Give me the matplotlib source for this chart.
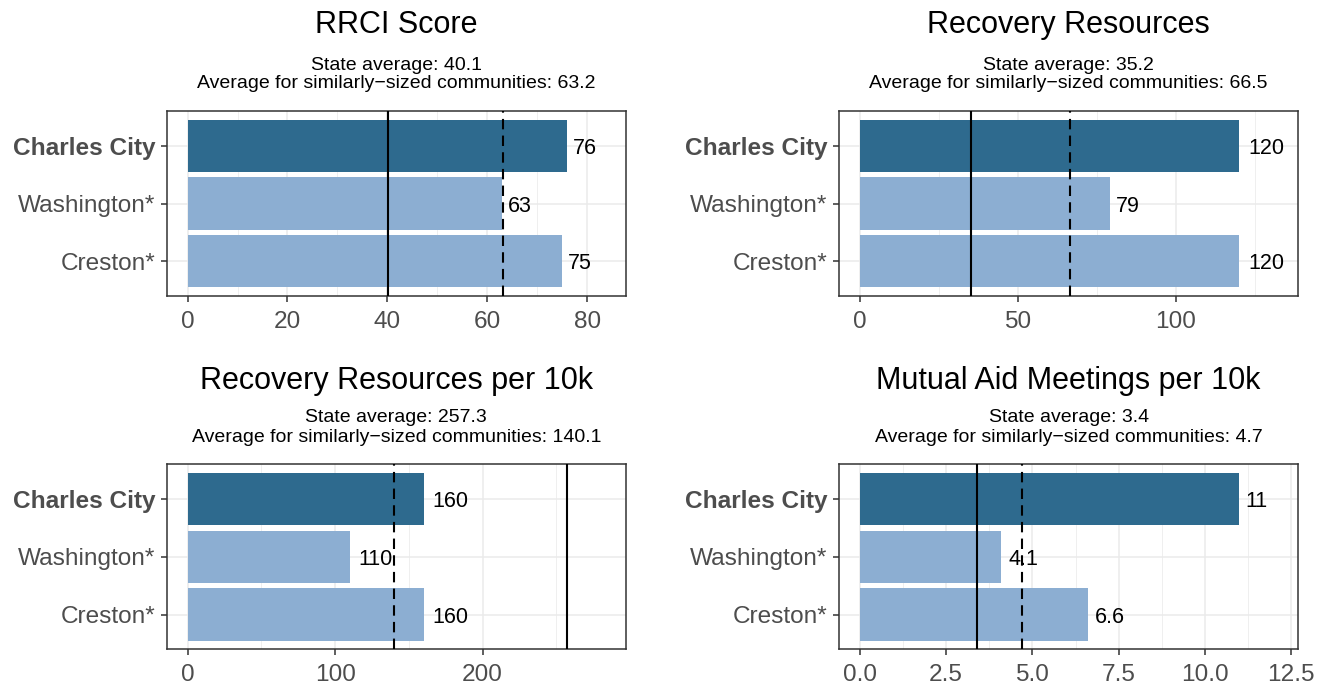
import matplotlib
matplotlib.use('Agg')
import matplotlib.pyplot as plt
from matplotlib.ticker import FixedLocator, MultipleLocator

plt.rcParams['font.family'] = ['Liberation Sans', 'DejaVu Sans']

# ---------------- data ----------------
communities = ['Charles City', 'Washington*', 'Creston*']
highlight = 'Charles City'

titles = ['RRCI Score', 'Recovery Resources',
          'Recovery Resources per 10k', 'Mutual Aid Meetings per 10k']
rrci_values = [76, 63, 75]
resources_values = [120, 79, 120]
resources_per10k_values = [160, 110, 160]
meetings_per10k_values = [11, 4.1, 6.6]
series = [rrci_values, resources_values, resources_per10k_values, meetings_per10k_values]

state_avgs = [40.1, 35.2, 257.3, 3.4]
similar_avgs = [63.2, 66.5, 140.1, 4.7]

value_labels = [['76', '63', '75'], ['120', '79', '120'],
                ['160', '110', '160'], ['11', '4.1', '6.6']]
xtick_values = [[0, 20, 40, 60, 80], [0, 50, 100], [0, 100, 200],
                [0, 2.5, 5, 7.5, 10, 12.5]]
xtick_labels = [['0', '20', '40', '60', '80'], ['0', '50', '100'],
                ['0', '100', '200'], ['0.0', '2.5', '5.0', '7.5', '10.0', '12.5']]

# ---------------- style ----------------
DARK = '#2E6A8E'
LIGHT = '#8CAED2'
GRID = '#EBEBEB'
FRAME = '#333333'
TICKTXT = '#4D4D4D'
LABEL_FS = 15.5
TICK_FS = 17.6

W, H = 1328, 683
fig = plt.figure(figsize=(W / 100, H / 100), dpi=100)


def rect(l, r, t, b):
    return [l / W, 1 - b / H, (r - l) / W, (b - t) / H]


def text_em(s):
    # approximate Arial advance widths (em) for digits and point
    return sum(0.278 if ch == '.' else 0.556 for ch in s)


panels = [rect(166.7, 626, 111, 296), rect(839, 1298, 111, 296),
          rect(166.7, 626, 464, 649.3), rect(839, 1298.3, 464, 649.3)]
title_y = [25, 25, 381, 381]
sub1_y = [65, 65, 418, 418]
sub2_y = [84, 84, 437, 437]

ypos = [3, 2, 1]

for i in range(4):
    ax = fig.add_axes(panels[i])
    vals = series[i]
    colors = [DARK if c == highlight else LIGHT for c in communities]
    ax.barh(ypos, vals, height=0.9, color=colors, zorder=2)

    top = max(max(vals), state_avgs[i], similar_avgs[i]) * 1.1
    pad = top * 0.05
    ax.set_xlim(-pad, top + pad)
    ax.set_ylim(0.4, 3.6)

    for v, y, lab in zip(vals, ypos, value_labels[i]):
        off = 0.25 * text_em(lab) * LABEL_FS
        ax.annotate(lab, (v, y), xytext=(off, 0), textcoords='offset points',
                    ha='left', va='center_baseline', fontsize=LABEL_FS,
                    color='black', zorder=3)

    ax.axvline(state_avgs[i], color='black', lw=1.5, zorder=4)
    ax.axvline(similar_avgs[i], color='black', lw=1.5, ls=(0, (5, 3)), zorder=4)

    ticks = xtick_values[i]
    step = ticks[1] - ticks[0]
    ax.xaxis.set_major_locator(FixedLocator(ticks))
    ax.set_xticklabels(xtick_labels[i])
    ax.xaxis.set_minor_locator(MultipleLocator(step / 2))
    ax.set_yticks(ypos)
    ax.set_yticklabels(communities)
    for lab, c in zip(ax.get_yticklabels(), communities):
        if c == highlight:
            lab.set_fontweight('bold')

    ax.grid(True, which='major', axis='both', color=GRID, lw=1.1, zorder=0)
    ax.grid(True, which='minor', axis='x', color=GRID, lw=0.55, zorder=0)
    ax.set_axisbelow(True)

    ax.tick_params(axis='both', which='major', length=4, width=1.1, color=FRAME,
                   labelcolor=TICKTXT, labelsize=TICK_FS)
    ax.tick_params(axis='y', pad=4.2)
    ax.tick_params(axis='x', pad=6.5)
    ax.tick_params(axis='x', which='minor', length=0)
    for sp in ax.spines.values():
        sp.set_color(FRAME)
        sp.set_linewidth(1.1)

    pos = panels[i]
    cx = pos[0] + pos[2] / 2
    fig.text(cx, 1 - title_y[i] / H, titles[i], ha='center', va='center',
             fontsize=22, color='black')
    fig.text(cx, 1 - sub1_y[i] / H, 'State average: %.1f' % state_avgs[i],
             ha='center', va='center', fontsize=14, color='black')
    fig.text(cx, 1 - sub2_y[i] / H,
             'Average for similarly\u2212sized communities: %.1f' % similar_avgs[i],
             ha='center', va='center', fontsize=14, color='black')

fig.savefig('out.png', dpi=100)
